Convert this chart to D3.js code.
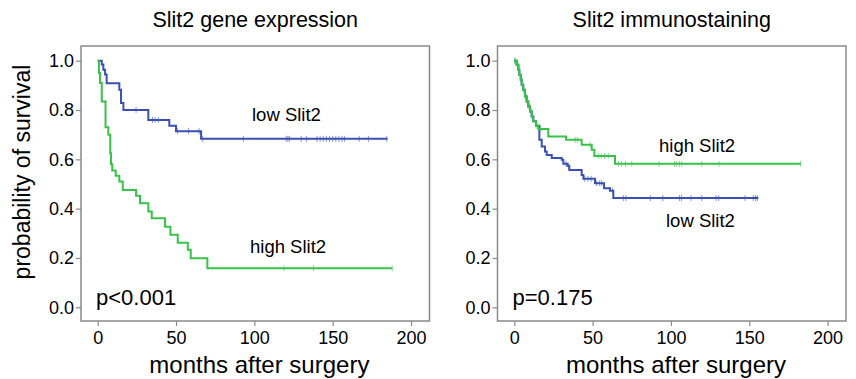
<!DOCTYPE html>
<html>
<head>
<meta charset="utf-8">
<script src="https://cdn.jsdelivr.net/npm/d3@7"></script>
<style>
	body { margin: 0; background: #fff; }
	text { font-family: "Liberation Sans", Arial, sans-serif; fill: #000; }
</style>
</head>
<body>
<div id="chart"></div>
<script>
//	data

var panelTitles = ["Slit2 gene expression", "Slit2 immunostaining"];
var pValues = ["p<0.001", "p=0.175"];
var xTicks = [0, 50, 100, 150, 200];
var yTicks = [0, 0.2, 0.4, 0.6, 0.8, 1.0];

// left panel, low Slit2 (blue)
var geneLowTimes = [0, 2.6, 3.6, 4.7, 5.7, 13.8, 14.9, 16.4, 32.3, 45.7, 50, 66, 185];
var geneLowSurv  = [1, 0.985, 0.963, 0.944, 0.909, 0.882, 0.828, 0.80, 0.76, 0.736, 0.714, 0.683, 0.683];
var geneLowCensor = [24.5, 35, 36.5, 38.7, 51, 58, 64.7, 67, 93, 120.3, 121.4, 122.4, 129.9, 133.4,
	140, 142, 144, 146, 148, 150, 152, 154, 156, 157.5, 166.9, 172.8, 184.5];

// left panel, high Slit2 (green)
var geneHighTimes = [0, 0.8, 1.5, 2.6, 5, 6.8, 8, 8.5, 9.3, 11.5, 13.8, 16, 24.5, 27, 32.3, 34.5, 43, 46.4, 51.1, 57.5, 59.4, 70, 188];
var geneHighSurv  = [1, 0.95, 0.91, 0.835, 0.73, 0.70, 0.625, 0.58, 0.555, 0.533, 0.51, 0.476, 0.452, 0.422, 0.388, 0.361, 0.327, 0.294, 0.262, 0.233, 0.199, 0.158, 0.158];
var geneHighCensor = [119, 137.7, 188];

// right panel, low Slit2 (blue)
var stainLowTimes = [0, 1.5, 2.6, 3.2, 4.1, 4.7, 5.7, 6.8, 7.9, 8.9, 10, 11.1, 12.1, 13.9, 16, 17.5, 19.6, 20.7, 23.9, 30.3, 31.3, 33.9, 35.1, 43, 44.1, 51.5, 57.3, 61.1, 63.2, 155.8];
var stainLowSurv  = [1, 0.984, 0.963, 0.943, 0.923, 0.902, 0.882, 0.855, 0.835, 0.814, 0.794, 0.774, 0.754, 0.736, 0.679, 0.652, 0.632, 0.618, 0.605, 0.598, 0.582, 0.574, 0.557, 0.537, 0.521, 0.503, 0.483, 0.473, 0.443, 0.443];
var stainLowCensor = [0.5, 4.5, 7.5, 9.5, 33, 34.5, 45, 47, 49, 52.6, 54.5, 55.8, 62.8, 69.6, 71.3,
	86.8, 94.8, 105.4, 106.7, 112.8, 119.7, 128.8, 130.5, 147.3, 152.6, 154.1, 155.1];

// right panel, high Slit2 (green)
var stainHighTimes = [0, 1.5, 2.6, 3.2, 4.1, 4.7, 5.7, 6.8, 7.9, 8.9, 10, 11.1, 12.1, 13.9, 15.3, 21.7, 33, 43, 49.4, 51.1, 64.3, 182.8];
var stainHighSurv  = [1, 0.984, 0.963, 0.943, 0.923, 0.902, 0.882, 0.855, 0.835, 0.814, 0.794, 0.774, 0.754, 0.736, 0.723, 0.693, 0.679, 0.659, 0.639, 0.614, 0.582, 0.582];
var stainHighCensor = [0.3, 6, 11, 14.5, 17, 38.8, 40.2, 48.3, 53.6, 55.5, 57.5, 60, 66.4, 68.5, 71, 75,
	92.4, 102.2, 103.7, 105.4, 106.9, 119.7, 130.7, 182.8];

var blue = "#3a50b4";
var green = "#38c24a";

var panels = [
	{
		title: panelTitles[0], p: pValues[0], left: 81, xr: [97.7, 411],
		series: [
			{ t: geneLowTimes, s: geneLowSurv, c: geneLowCensor, color: blue },
			{ t: geneHighTimes, s: geneHighSurv, c: geneHighCensor, color: green }
		],
		labels: [
			{ text: "low Slit2", x: 252, y: 121 },
			{ text: "high Slit2", x: 250, y: 253 }
		]
	},
	{
		title: panelTitles[1], p: pValues[1], left: 497.5, xr: [514.3, 827.6],
		series: [
			{ t: stainLowTimes, s: stainLowSurv, c: stainLowCensor, color: blue },
			{ t: stainHighTimes, s: stainHighSurv, c: stainHighCensor, color: green }
		],
		labels: [
			{ text: "high Slit2", x: 659, y: 152 },
			{ text: "low Slit2", x: 666, y: 227 }
		]
	}
];

// plot box edges (not "top": that one is taken by window.top)
var plotTop = 46, plotBottom = 321;

var svg = d3.select("#chart")
	.append("svg")
	.attr("width", 856)
	.attr("height", 379);

var y = d3.scaleLinear().domain([0, 1]).range([307.3, 60.7]);

// survival value at time tt for step curve
function survAt(times, surv, tt) {
	var v = surv[0];
	for (var i = 0; i < times.length; i++) {
		if (times[i] <= tt) v = surv[i];
	}
	return v;
}

panels.forEach(function(p) {
	var right = p.left + 348.5;
	var x = d3.scaleLinear().domain([0, 200]).range(p.xr);
	var g = svg.append("g");

	// frame
	g.append("rect")
		.attr("x", p.left)
		.attr("y", plotTop)
		.attr("width", right - p.left)
		.attr("height", plotBottom - plotTop)
		.style("fill", "none")
		.style("stroke", "#8a8a8a")
		.style("stroke-width", 1.5);

	// y axis
	var ya = g.append("g")
		.attr("transform", "translate(" + p.left + ",0)")
		.call(d3.axisLeft(y).tickValues(yTicks).tickFormat(d3.format(".1f")).tickSize(5).tickPadding(2));
	ya.select(".domain").remove();
	ya.selectAll("line").style("stroke", "#8a8a8a").style("stroke-width", 1.2);
	ya.selectAll("text").style("font-size", "18px").style("font-family", "Liberation Sans, Arial, sans-serif").style("fill", "#000");

	// x axis
	var xa = g.append("g")
		.attr("transform", "translate(0," + plotBottom + ")")
		.call(d3.axisBottom(x).tickValues(xTicks).tickSize(5).tickPadding(5));
	xa.select(".domain").remove();
	xa.selectAll("line").style("stroke", "#8a8a8a").style("stroke-width", 1.2);
	xa.selectAll("text").style("font-size", "18px").style("font-family", "Liberation Sans, Arial, sans-serif").style("fill", "#000");

	// curves
	var line = d3.line()
		.x(function(d) { return x(d[0]); })
		.y(function(d) { return y(d[1]); })
		.curve(d3.curveStepAfter);

	p.series.forEach(function(s) {
		var pts = s.t.map(function(t, i) { return [t, s.s[i]]; });
		g.append("path")
			.datum(pts)
			.attr("d", line)
			.style("fill", "none")
			.style("stroke", s.color)
			.style("stroke-width", 2);

		g.selectAll(".censor")
			.data(s.c)
			.enter().append("line")
			.attr("x1", function(d) { return x(d); })
			.attr("x2", function(d) { return x(d); })
			.attr("y1", function(d) { return y(survAt(s.t, s.s, d)) - 3; })
			.attr("y2", function(d) { return y(survAt(s.t, s.s, d)) + 3; })
			.style("stroke", s.color)
			.style("stroke-opacity", 0.6)
			.style("stroke-width", 1);
	});

	p.labels.forEach(function(l) {
		g.append("text")
			.attr("x", l.x)
			.attr("y", l.y)
			.style("font-size", "18.5px")
			.text(l.text);
	});

	g.append("text")
		.attr("x", p.left + 15)
		.attr("y", 305)
		.style("font-size", "22px")
		.text(p.p);

	g.append("text")
		.attr("x", (p.left + right) / 2)
		.attr("y", 27)
		.attr("text-anchor", "middle")
		.style("font-size", "21.5px")
		.text(p.title);

	g.append("text")
		.attr("x", (p.xr[0] + p.xr[1]) / 2 + 5)
		.attr("y", 373)
		.attr("text-anchor", "middle")
		.style("font-size", "24px")
		.text("months after surgery");
});

svg.append("text")
	.attr("transform", "translate(30,172) rotate(-90)")
	.attr("text-anchor", "middle")
	.style("font-size", "23px")
	.text("probability of survival");
</script>
</body>
</html>
